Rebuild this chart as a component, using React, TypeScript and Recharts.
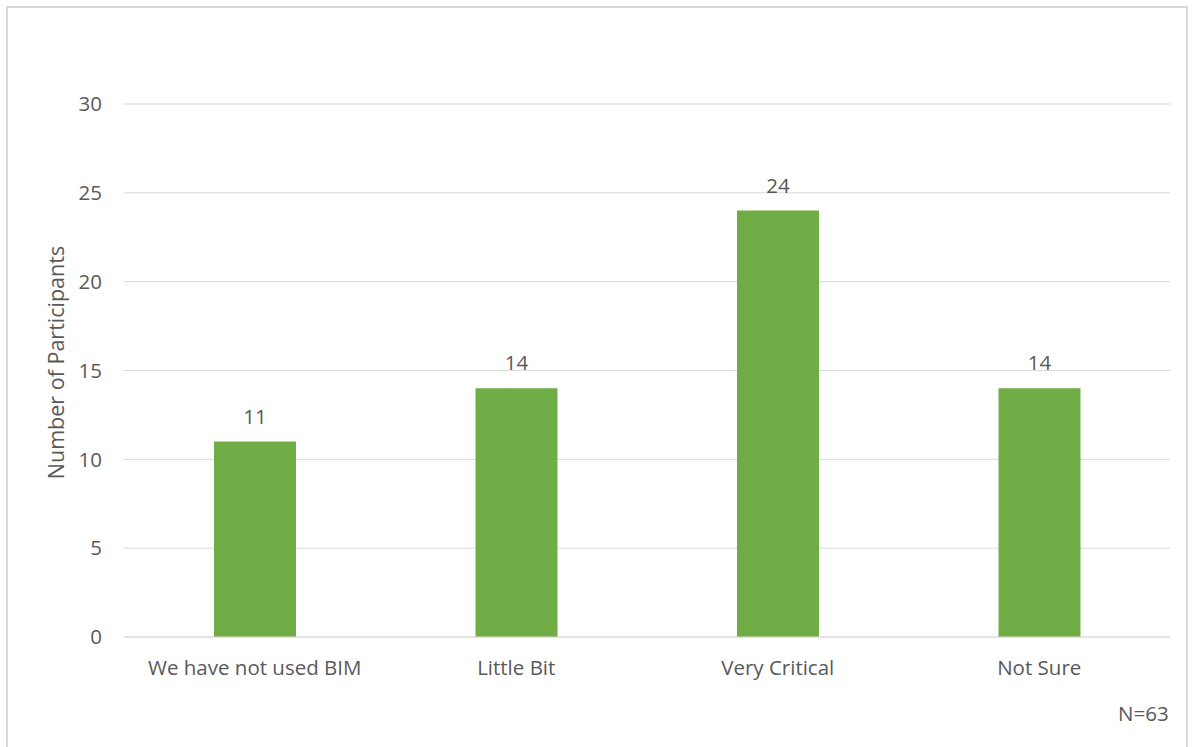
import React from 'react';
import { BarChart, Bar, XAxis, YAxis, CartesianGrid, LabelList, Label } from 'recharts';

const categories = ['We have not used BIM', 'Little Bit', 'Very Critical', 'Not Sure'];
const participants = [11, 14, 24, 14];
const yTicks = [0, 5, 10, 15, 20, 25, 30];
const sampleNote = 'N=63';
const yTitle = 'Number of Participants';

const data = categories.map((c, i) => ({ category: c, value: participants[i] }));

const FONT = '"Open Sans", "Noto Sans", sans-serif';
const TEXT = '#595959';
const FS = 20.5;

export default function App() {
  return (
    <div
      style={{
        position: 'absolute',
        left: 6,
        top: 6,
        width: 1182,
        height: 760,
        border: '2px solid #d9d9d9',
        boxSizing: 'border-box',
        background: '#fff',
        fontFamily: FONT,
      }}
    >
      <div style={{ position: 'absolute', left: 0, top: 0 }}>
        <BarChart
          width={1170}
          height={730}
          data={data}
          margin={{ top: 96, right: 8, bottom: 71, left: 0 }}
          barSize={82}
        >
          <CartesianGrid vertical={false} stroke="#d9d9d9" strokeWidth={1} />
          <XAxis
            dataKey="category"
            axisLine={{ stroke: '#d9d9d9', strokeWidth: 1 }}
            tickLine={false}
            tickSize={0}
            tickMargin={23}
            tick={{ fill: TEXT, fontSize: FS, fontFamily: FONT }}
            interval={0}
          />
          <YAxis
            width={116}
            domain={[0, 30]}
            ticks={yTicks}
            axisLine={false}
            tickLine={false}
            tickSize={0}
            tickMargin={22}
            tick={{ fill: TEXT, fontSize: FS, fontFamily: FONT }}
          >
            <Label
              content={(props: any) => {
                const vb = props.viewBox || { x: 0, y: 96, width: 116, height: 533 };
                const cx = vb.x + 47;
                const cy = vb.y + vb.height / 2 - 8;
                return (
                  <text
                    x={cx}
                    y={cy}
                    transform={`rotate(-90 ${cx} ${cy})`}
                    textAnchor="middle"
                    dominantBaseline="central"
                    fill={TEXT}
                    fontSize={21.5}
                    fontFamily={FONT}
                  >
                    {yTitle}
                  </text>
                );
              }}
            />
          </YAxis>
          <Bar dataKey="value" fill="#70ad47" isAnimationActive={false}>
            <LabelList
              dataKey="value"
              position="top"
              offset={18}
              fill={TEXT}
              fontSize={FS}
              fontFamily={FONT}
            />
          </Bar>
        </BarChart>
      </div>
      <div
        style={{
          position: 'absolute',
          left: 1110,
          top: 691,
          color: TEXT,
          fontSize: FS,
          fontFamily: FONT,
        }}
      >
        {sampleNote}
      </div>
    </div>
  );
}
